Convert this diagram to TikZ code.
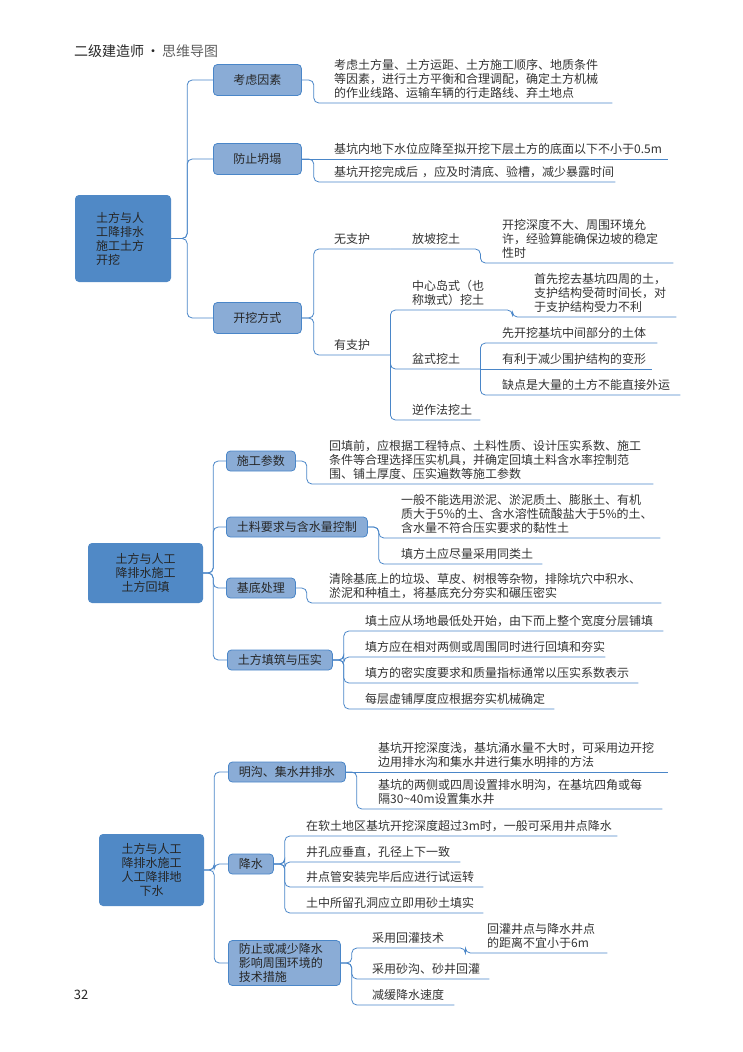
\documentclass[tikz,border=0pt]{standalone}
\usepackage{fontspec}
\setmainfont{Noto Sans CJK SC}
\usepackage{tikz}
\definecolor{rootblue}{RGB}{80,137,198}
\definecolor{subblue}{RGB}{138,172,214}
\definecolor{linkblue}{RGB}{74,134,200}
\definecolor{txtgray}{RGB}{51,51,51}
\definecolor{titledark}{RGB}{38,38,38}
\definecolor{titlegray}{RGB}{95,95,95}

\begin{document}
\begin{tikzpicture}[x=1pt,y=-1pt,font=\fontsize{12}{14}\selectfont,
                    inner sep=0pt]
  \tikzstyle{linkline}=[draw=linkblue,line width=0.8pt,rounded corners=5pt]
  \tikzstyle{rootbox}=[rectangle,rounded corners=4pt,fill=rootblue,draw=none,
                       text=black!85]
  \tikzstyle{subbox}=[rectangle,rounded corners=4pt,fill=subblue,draw=linkblue,
                      line width=0.8pt,text=black!85,anchor=west,
                      inner xsep=10.5pt,inner ysep=3pt,minimum height=20pt]
  \tikzstyle{bigbox}=[subbox,minimum width=88pt,minimum height=31pt]
  \tikzstyle{leaftext}=[anchor=south west,align=left,text=txtgray,
                        inner xsep=0pt,inner ysep=4pt]

  \useasboundingbox (0,0) rectangle (743,1052);

  \node[anchor=west,font=\fontsize{14}{16}\selectfont] (title) at (74,51)
    {\color{titledark}二级建造师\hspace{2pt}·\hspace{2pt}\color{titlegray}思维导图};
  \node[font=\fontsize{13}{15}\selectfont,text=titledark] (pageno) at (81,995) {32};

  % 开挖
  \node[rootbox,minimum width=96pt,minimum height=87pt,text width=54pt,
        align=left] (kaiwa) at (123,238.5) {土方与人\\工降排水\\施工土方\\开挖};
  \node[bigbox] (kaolv)   at (213,80)  {考虑因素};
  \node[bigbox] (fangzhi) at (213,159) {防止坍塌};
  \node[bigbox] (fangshi) at (213,318) {开挖方式};

  \node[leaftext,text width=278pt] (kaolvA) at (334,103)
    {考虑土方量、土方运距、土方施工顺序、地质条件\\等因素，进行土方平衡和合理调配，确定土方机械\\的作业线路、运输车辆的行走路线、弃土地点};
  \node[leaftext,text width=334pt] (fangzhiA) at (334,159)
    {基坑内地下水位应降至拟开挖下层土方的底面以下不小于0.5m};
  \node[leaftext,text width=281pt] (fangzhiB) at (334,182)
    {基坑开挖完成后 ，应及时清底、验槽，减少暴露时间};

  \node[leaftext,text width=56pt]  (wuzhi)    at (334,249) {无支护};
  \node[leaftext,text width=68pt]  (fangpo)   at (412,249) {放坡挖土};
  \node[leaftext,text width=171pt] (fangpoA)  at (502,263)
    {开挖深度不大、周围环境允\\许，经验算能确保边坡的稳定\\性时};
  \node[leaftext,text width=56pt]  (youzhi)   at (334,355) {有支护};
  \node[leaftext,text width=100pt] (zhongxin) at (412,310) {中心岛式（也\\称墩式）挖土};
  \node[leaftext,text width=142pt] (zhongxinA) at (534,317)
    {首先挖去基坑四周的土，\\支护结构受荷时间长，对\\于支护结构受力不利};
  \node[leaftext,text width=68pt]  (penshi)   at (412,369) {盆式挖土};
  \node[leaftext,text width=155pt] (penshiA)  at (502,343) {先开挖基坑中间部分的土体};
  \node[leaftext,text width=150pt] (penshiB)  at (502,369) {有利于减少围护结构的变形};
  \node[leaftext,text width=178pt] (penshiC)  at (502,395) {缺点是大量的土方不能直接外运};
  \node[leaftext,text width=68pt]  (nizuo)    at (412,420) {逆作法挖土};

  \draw[linkline] (kaiwa.east) -- ++(16,0) |- (kaolv.west);
  \draw[linkline] (kaiwa.east) -- ++(16,0) |- (fangzhi.west);
  \draw[linkline] (kaiwa.east) -- ++(16,0) |- (fangshi.west);
  \draw[linkline] (kaolv.east) -- ++(12,0) |- (kaolvA.south east);
  \draw[linkline] (fangzhi.east) -- (fangzhiA.south east);
  \draw[linkline] (fangzhi.east) -- ++(12,0) |- (fangzhiB.south east);
  \draw[linkline] (fangshi.east) -- ++(12,0) |- (wuzhi.south east);
  \draw[linkline] (fangshi.east) -- ++(12,0) |- (youzhi.south east);
  \draw[linkline] (wuzhi.south east) -- (fangpo.south east) |- (fangpoA.south east);
  \draw[linkline] (youzhi.south east) |- (zhongxin.south east) |- (zhongxinA.south east);
  \draw[linkline] (youzhi.south east) |- (penshi.south east);
  \draw[linkline] (youzhi.south east) |- (nizuo.south east);
  \draw[linkline] (penshi.south east) |- (penshiA.south east);
  \draw[linkline] (penshi.south east) -- (penshiB.south east);
  \draw[linkline] (penshi.south east) |- (penshiC.south east);

  % 回填
  \node[rootbox,minimum width=115pt,minimum height=60pt,align=center]
    (huitian) at (145.5,573) {土方与人工\\降排水施工\\土方回填};
  \node[subbox] (canshu)  at (226,461) {施工参数};
  \node[subbox] (tuliao)  at (226,527) {土料要求与含水量控制};
  \node[subbox] (jidi)    at (226,588) {基底处理};
  \node[subbox] (tianzhu) at (227,660) {土方填筑与压实};

  \node[leaftext,text width=324pt] (canshuA) at (329,484)
    {回填前，应根据工程特点、土料性质、设计压实系数、施工\\条件等合理选择压实机具，并确定回填土料含水率控制范\\围、铺土厚度、压实遍数等施工参数};
  \node[leaftext,text width=259pt] (tuliaoA) at (401,538)
    {一般不能选用淤泥、淤泥质土、膨胀土、有机\\质大于5\%的土、含水溶性硫酸盐大于5\%的土、\\含水量不符合压实要求的黏性土};
  \node[leaftext,text width=141pt] (tuliaoB) at (401,564) {填方土应尽量采用同类土};
  \node[leaftext,text width=332pt] (jidiA) at (329,603)
    {清除基底上的垃圾、草皮、树根等杂物，排除坑穴中积水、\\淤泥和种植土，将基底充分夯实和碾压密实};
  \node[leaftext,text width=298pt] (tianzhuA) at (365,631) {填土应从场地最低处开始，由下而上整个宽度分层铺填};
  \node[leaftext,text width=240pt] (tianzhuB) at (365,657) {填方应在相对两侧或周围同时进行回填和夯实};
  \node[leaftext,text width=273pt] (tianzhuC) at (365,683) {填方的密实度要求和质量指标通常以压实系数表示};
  \node[leaftext,text width=189pt] (tianzhuD) at (365,709) {每层虚铺厚度应根据夯实机械确定};

  \draw[linkline] (huitian.east) -- ++(10,0) |- (canshu.west);
  \draw[linkline] (huitian.east) -- ++(10,0) |- (tuliao.west);
  \draw[linkline] (huitian.east) -- ++(10,0) |- (jidi.west);
  \draw[linkline] (huitian.east) -- ++(10,0) |- (tianzhu.west);
  \draw[linkline] (canshu.east) -- ++(11,0) |- (canshuA.south east);
  \draw[linkline] (tuliao.east) -- ++(11,0) |- (tuliaoA.south east);
  \draw[linkline] (tuliao.east) -- ++(11,0) |- (tuliaoB.south east);
  \draw[linkline] (jidi.east) -- ++(11,0) |- (jidiA.south east);
  \draw[linkline] (tianzhu.east) -- ++(11,0) |- (tianzhuA.south east);
  \draw[linkline] (tianzhu.east) -- ++(11,0) |- (tianzhuB.south east);
  \draw[linkline] (tianzhu.east) -- ++(11,0) |- (tianzhuC.south east);
  \draw[linkline] (tianzhu.east) -- ++(11,0) |- (tianzhuD.south east);

  % 降排水
  \node[rootbox,minimum width=105pt,minimum height=72pt,align=center]
    (paishui) at (151.5,870) {土方与人工\\降排水施工\\人工降排地\\下水};
  \node[subbox] (minggou)   at (228,772) {明沟、集水井排水};
  \node[subbox] (jiangshui) at (228,864) {降水};
  \node[subbox,text width=91pt,align=left] (cuoshi) at (228,963)
    {防止或减少降水\\影响周围环境的\\技术措施};

  \node[leaftext,text width=290pt] (minggouA) at (378,772)
    {基坑开挖深度浅，基坑涌水量不大时，可采用边开挖\\边用排水沟和集水井进行集水明排的方法};
  \node[leaftext,text width=284pt] (minggouB) at (378,809)
    {基坑的两侧或四周设置排水明沟，在基坑四角或每\\隔30\textasciitilde40m设置集水井};
  \node[leaftext,text width=311pt] (jiangshuiA) at (306,836) {在软土地区基坑开挖深度超过3m时，一般可采用井点降水};
  \node[leaftext,text width=154pt] (jiangshuiB) at (306,862) {井孔应垂直，孔径上下一致};
  \node[leaftext,text width=177pt] (jiangshuiC) at (306,887) {井点管安装完毕后应进行试运转};
  \node[leaftext,text width=177pt] (jiangshuiD) at (306,913) {土中所留孔洞应立即用砂土填实};
  \node[leaftext,text width=93pt]  (huiguan)   at (372,948) {采用回灌技术};
  \node[leaftext,text width=120pt] (huiguanA)  at (487,953) {回灌井点与降水井点\\的距离不宜小于6m};
  \node[leaftext,text width=117pt] (shagou)    at (372,979) {采用砂沟、砂井回灌};
  \node[leaftext,text width=82pt]  (huanjiang) at (372,1005) {减缓降水速度};

  \draw[linkline] (paishui.east) -- ++(10,0) |- (minggou.west);
  \draw[linkline] (paishui.east) -- ++(10,0) |- (jiangshui.west);
  \draw[linkline] (paishui.east) -- ++(10,0) |- (cuoshi.west);
  \draw[linkline] (minggou.east) -- (minggouA.south east);
  \draw[linkline] (minggou.east) -- ++(11,0) |- (minggouB.south east);
  \draw[linkline] (jiangshui.east) -- ++(11,0) |- (jiangshuiA.south east);
  \draw[linkline] (jiangshui.east) -- ++(11,0) |- (jiangshuiB.south east);
  \draw[linkline] (jiangshui.east) -- ++(11,0) |- (jiangshuiC.south east);
  \draw[linkline] (jiangshui.east) -- ++(11,0) |- (jiangshuiD.south east);
  \draw[linkline] (cuoshi.east) -- ++(11,0) |- (huiguan.south east) |- (huiguanA.south east);
  \draw[linkline] (cuoshi.east) -- ++(11,0) |- (shagou.south east);
  \draw[linkline] (cuoshi.east) -- ++(11,0) |- (huanjiang.south east);
\end{tikzpicture}
\end{document}
